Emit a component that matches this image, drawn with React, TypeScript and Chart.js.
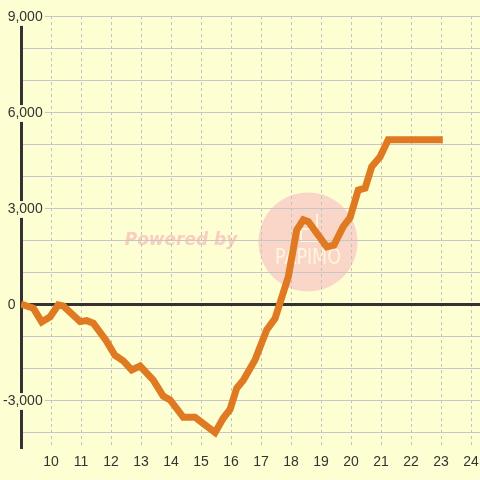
import React, { useEffect, useRef } from 'react';
import { Chart, registerables } from 'chart.js';

Chart.register(...registerables);

// Time of day (hours) and cumulative balance
const hours = [
  9.0, 9.41, 9.69, 9.97, 10.24, 10.41, 10.97, 11.19, 11.41, 11.83,
  12.13, 12.41, 12.69, 12.97, 13.41, 13.74, 13.97, 14.41, 14.8, 15.47,
  15.74, 15.97, 16.19, 16.41, 16.8, 17.19, 17.47, 17.91, 18.19, 18.41,
  18.58, 19.19, 19.43, 19.74, 19.97, 20.24, 20.47, 20.69, 20.97, 21.24,
  23.06,
];
const balance = [
  0, -130, -560, -400, -30, -60, -550, -520, -600, -1130,
  -1600, -1780, -2060, -1940, -2380, -2880, -3000, -3540, -3540, -4020,
  -3570, -3290, -2630, -2380, -1750, -810, -450, 850, 2310, 2630,
  2570, 1790, 1840, 2420, 2700, 3560, 3620, 4290, 4600, 5130,
  5130,
];

const xTickHours = [10, 11, 12, 13, 14, 15, 16, 17, 18, 19, 20, 21, 22, 23, 24];
const yGridValues = [-4000, -3000, -2000, -1000, 0, 1000, 2000, 3000, 4000, 5000, 6000, 7000, 8000, 9000];
const yLabelStep = 3000;
const xMin = 9;
const xMax = 24.3;
const yMin = -4500;
const yMax = 9000;

const BG = '#FEFED3';
const LINE = '#E07A22';
const TEXT = '#333333';
const FONT = '"Liberation Sans", Arial, sans-serif';

const watermarkPlugin = {
  id: 'watermark',
  beforeDraw(chart: any) {
    const { ctx } = chart;
    ctx.save();
    ctx.font = 'italic bold 17px "DejaVu Sans", sans-serif';
    ctx.fillStyle = '#F9CDBF';
    ctx.textAlign = 'center';
    ctx.textBaseline = 'middle';
    ctx.fillText('Powered by', 181, 241);
    ctx.beginPath();
    ctx.arc(308, 242, 49.5, 0, Math.PI * 2);
    ctx.fillStyle = '#F9D6C8';
    ctx.fill();
    ctx.strokeStyle = '#FFF6DA';
    ctx.lineWidth = 2;
    ctx.beginPath();
    ctx.moveTo(301, 229);
    ctx.lineTo(301, 241);
    ctx.lineTo(317, 241);
    ctx.lineTo(317, 214);
    ctx.stroke();
    ctx.beginPath();
    ctx.moveTo(301, 229);
    ctx.lineTo(311, 229);
    ctx.stroke();
    ctx.font = '22px "DejaVu Sans", sans-serif';
    ctx.fillStyle = '#FFF6DA';
    ctx.fillText('PAPIMO', 308, 258, 66);
    ctx.restore();
  },
};

const formatY = (v: number) => {
  if (v % yLabelStep !== 0) return '';
  if (v === 0) return '0       ';
  return v.toLocaleString('en-US');
};

export default function App() {
  const ref = useRef<HTMLCanvasElement | null>(null);

  useEffect(() => {
    if (!ref.current) return;
    const chart = new Chart(ref.current, {
      type: 'line',
      data: {
        datasets: [
          {
            data: hours.map((h, i) => ({ x: h, y: balance[i] })),
            borderColor: LINE,
            borderWidth: 7,
            pointRadius: 0,
            tension: 0,
            fill: false,
          },
        ],
      },
      options: {
        animation: false,
        responsive: false,
        events: [],
        layout: { padding: { top: 16, left: 0, right: 0, bottom: 0 } },
        plugins: { legend: { display: false }, tooltip: { enabled: false } },
        scales: {
          x: {
            type: 'linear',
            min: xMin,
            max: xMax,
            afterBuildTicks: (s: any) => {
              s.ticks = xTickHours.map((v) => ({ value: v }));
            },
            afterFit: (s: any) => {
              s.height = 32;
              s.paddingLeft = 0;
              s.paddingRight = 0;
            },
            ticks: {
              autoSkip: false,
              maxRotation: 0,
              padding: 6,
              color: TEXT,
              font: { family: FONT, size: 14 },
            },
            grid: { color: '#C2C2C2', lineWidth: 1, drawTicks: false },
            border: { display: false, dash: [3, 3] },
          },
          y: {
            type: 'linear',
            min: yMin,
            max: yMax,
            afterBuildTicks: (s: any) => {
              s.ticks = yGridValues.map((v) => ({ value: v }));
            },
            afterFit: (s: any) => {
              s.width = 21;
              s.paddingTop = 0;
              s.paddingBottom = 0;
            },
            ticks: {
              autoSkip: false,
              mirror: true,
              crossAlign: 'far',
              padding: -18,
              labelOffset: 1.5,
              color: TEXT,
              font: { family: FONT, size: 14 },
              callback: (v: any) => formatY(Number(v)),
              showLabelBackdrop: (c: any) => !!c.tick && c.tick.value !== 0 && c.tick.value % yLabelStep === 0,
              backdropColor: BG,
              backdropPadding: { top: 0, bottom: 0, left: 2, right: 2 },
            } as any,
            grid: {
              drawTicks: false,
              color: (c: any) => (c.tick && c.tick.value === 0 ? '#333333' : '#C6C6C6'),
              lineWidth: (c: any) => (c.tick && c.tick.value === 0 ? 3 : 1),
            },
            border: { display: true, color: '#333333', width: 3 },
          },
        },
      } as any,
      plugins: [watermarkPlugin],
    });
    return () => chart.destroy();
  }, []);

  return (
    <div style={{ position: 'absolute', left: 0, top: 0, width: 480, height: 480, background: BG }}>
      <canvas ref={ref} width={480} height={480} style={{ display: 'block' }} />
    </div>
  );
}
